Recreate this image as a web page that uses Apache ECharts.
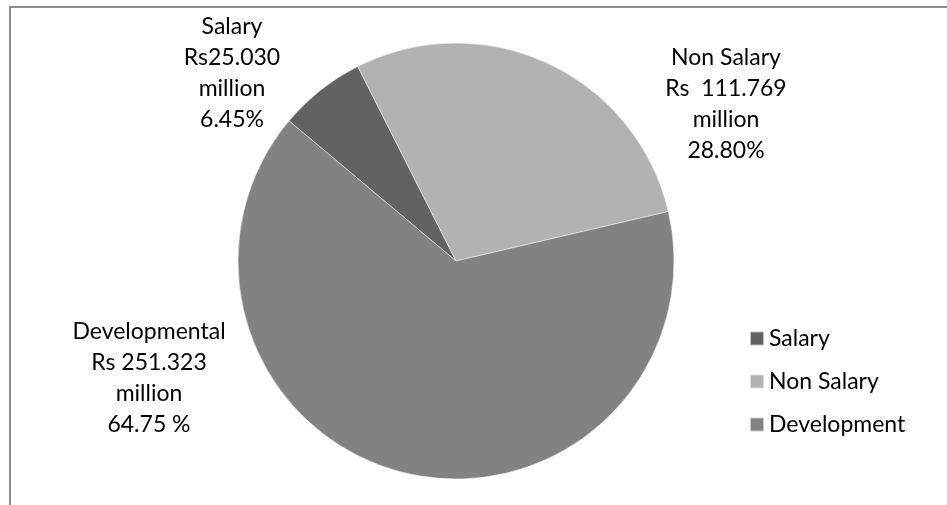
<!DOCTYPE html>
<html>
<head>
<meta charset="utf-8">
<script src="https://cdn.jsdelivr.net/npm/echarts@6/dist/echarts.min.js"></script>
<style>
  html, body { margin: 0; padding: 0; background: #fff; }
  #wrap { position: relative; width: 947px; height: 505px; overflow: hidden; }
  #frame { position: absolute; left: 9px; top: 6px; width: 1000px; height: 600px;
           border-top: 2px solid #8c8c8c; border-left: 2px solid #8c8c8c; box-sizing: border-box; }
  #chart { position: absolute; left: 0; top: 0; width: 947px; height: 505px; }
</style>
</head>
<body>
<div id="wrap">
  <div id="frame"></div>
  <div id="chart"></div>
</div>
<script>
// Data
const categories = ['Salary', 'Non Salary', 'Development'];
const values = [25.030, 111.769, 251.323];
const labelNames = ['Salary', 'Non Salary', 'Developmental'];
const labelAmounts = ['Rs25.030', 'Rs  111.769', 'Rs 251.323'];
const labelUnits = ['million', 'million', 'million'];
const labelPercents = ['6.45%', '28.80%', '64.75 %'];

// Styling / layout
const colors = ['#626262', '#b2b2b2', '#828282'];
const labelCenters = [[232, 73], [726, 104], [149, 378]];
const FONT = 'Lato, "Liberation Sans", sans-serif';

const chart = echarts.init(document.getElementById('chart'), null, { renderer: 'canvas' });
chart.setOption({
  backgroundColor: 'transparent',
  animation: false,
  color: colors,
  legend: {
    orient: 'vertical',
    left: 744,
    top: 322,
    itemWidth: 14,
    itemHeight: 14,
    itemGap: 20,
    icon: 'rect',
    data: categories,
    textStyle: { fontFamily: FONT, fontSize: 23, color: '#000' }
  },
  series: [{
    type: 'pie',
    center: [456, 261],
    radius: 218,
    startAngle: 140,
    clockwise: true,
    avoidLabelOverlap: false,
    itemStyle: { borderColor: 'rgba(255,255,255,0.6)', borderWidth: 0.8 },
    label: {
      show: true,
      position: 'outside',
      fontFamily: FONT,
      fontSize: 23,
      lineHeight: 31,
      color: '#000',
      align: 'center',
      formatter: p => [labelNames[p.dataIndex], labelAmounts[p.dataIndex], labelUnits[p.dataIndex], labelPercents[p.dataIndex]].join('\n')
    },
    labelLine: { show: false },
    labelLayout: p => ({
      x: labelCenters[p.dataIndex][0],
      y: labelCenters[p.dataIndex][1],
      align: 'center',
      verticalAlign: 'middle'
    }),
    emphasis: { disabled: true },
    data: categories.map((c, i) => ({ name: c, value: values[i] }))
  }]
});
</script>
</body>
</html>
